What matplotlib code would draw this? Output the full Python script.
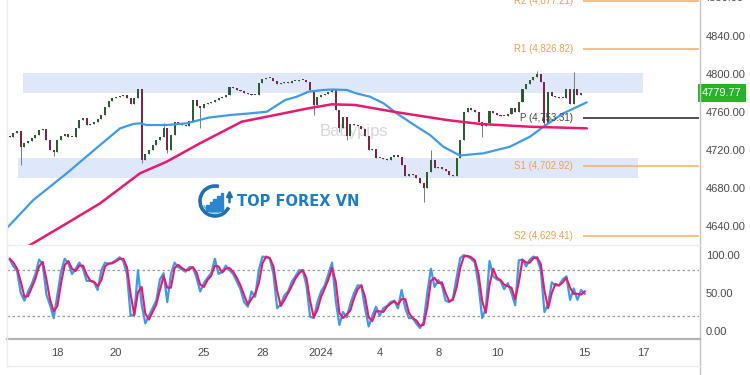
import numpy as np
import matplotlib
matplotlib.use('Agg')
import matplotlib.pyplot as plt
import matplotlib.transforms as mtransforms
from matplotlib.patches import Rectangle, Arc
from matplotlib.lines import Line2D

plt.rcParams['font.family'] = ['Liberation Sans Narrow', 'Liberation Sans', 'DejaVu Sans']

# ---------------- data ----------------
closes = [
    4733.7, 4737.9, 4740.0, 4722.9, 4727.4, 4729.5, 4732.6, 4735.8, 4741.1, 4742.1,
    4730.5, 4720.0, 4717.9, 4730.5, 4734.7, 4736.8, 4733.7, 4733.7, 4743.2, 4751.6,
    4753.7, 4746.3, 4747.4, 4749.5, 4752.6, 4756.8, 4765.3, 4771.6, 4774.7, 4775.8,
    4776.8, 4777.9, 4774.7, 4768.4, 4774.7, 4784.2, 4709.5, 4715.8, 4720.0, 4725.3,
    4730.5, 4733.7, 4743.2, 4720.0, 4735.8, 4749.5, 4748.4, 4746.3, 4745.3, 4750.5,
    4772.6, 4766.3, 4764.2, 4768.4, 4769.5, 4770.5, 4772.6, 4774.7, 4775.8, 4777.9,
    4786.3, 4785.3, 4783.2, 4782.1, 4780.0, 4778.9, 4777.9, 4777.9, 4790.5, 4794.7,
    4795.8, 4795.8, 4792.6, 4789.5, 4790.5, 4791.6, 4790.5, 4792.6, 4792.6, 4793.7,
    4793.7, 4791.6, 4783.2, 4767.4, 4775.8, 4777.9, 4778.9, 4781.1, 4784.2, 4762.1,
    4743.2, 4754.7, 4734.7, 4747.4, 4746.3, 4745.3, 4742.1, 4734.7, 4720.0, 4721.1,
    4711.6, 4711.6, 4710.5, 4709.5, 4712.6, 4714.7, 4712.6, 4704.2, 4692.6, 4694.7,
    4693.7, 4690.5, 4685.3, 4680.0, 4696.8, 4709.5, 4701.1, 4702.1, 4700.0, 4697.9,
    4693.7, 4692.6, 4711.6, 4730.5, 4760.0, 4764.2, 4762.1, 4760.0, 4749.5, 4745.3,
    4748.4, 4761.1, 4759.0, 4756.8, 4755.8, 4755.8, 4757.9, 4764.2, 4760.0, 4770.5,
    4784.2, 4789.5, 4793.7, 4796.8, 4800.0, 4791.6, 4748.4, 4781.1, 4776.8, 4775.8,
    4774.7, 4774.7, 4784.2, 4768.4, 4784.2, 4777.9, 4780.0, 4779.77,
]
first_open = 4735.0
wick_high = {42: 4748.1, 115: 4720.0, 144: 4803.0, 154: 4801.7}
wick_low = {3: 4704.2, 12: 4714.0, 36: 4706.3, 43: 4716.8, 52: 4743.0, 83: 4756.8,
            90: 4739.3, 92: 4730.5, 113: 4665.6, 129: 4734.0, 146: 4744.5}

ma_fast_x = [-1.73, -0.82, 0.32, 1.46, 2.14, 2.59, 2.82, 3.05, 3.73, 4.42, 5.15, 5.89,
             6.58, 7.15, 7.77, 8.17, 8.57, 9.08, 9.37, 9.88, 10.16, 10.67, 11.13, 11.58,
             12.27, 12.72, 13.17, 13.74, 14.54, 15.45, 16.13, 16.59, 17.27, 18.07]
ma_fast_y = [4637.6, 4667.4, 4695.5, 4725.3, 4742.8, 4747.4, 4748.1, 4746.3, 4746.3,
             4748.1, 4754.0, 4756.8, 4758.6, 4760.3, 4772.6, 4776.1, 4781.4, 4783.2,
             4783.7, 4783.2, 4780.0, 4776.1, 4769.2, 4758.6, 4744.5, 4735.8, 4723.5,
             4714.2, 4716.5, 4723.5, 4734.0, 4744.5, 4758.6, 4770.2]
ma_slow_x = [-1.62, -0.93, 0.32, 1.46, 2.82, 3.73, 4.87, 6.29, 7.43, 8.57, 9.37, 10.16,
             11.47, 13.29, 14.43, 16.13, 18.07]
ma_slow_y = [4609.5, 4620.0, 4642.8, 4663.9, 4695.5, 4707.7, 4727.1, 4749.8, 4756.8,
             4763.9, 4768.1, 4767.4, 4760.3, 4751.6, 4747.4, 4744.5, 4742.8]

stoch_k = [
    94, 85, 79, 50, 40, 52, 62, 75, 94, 88, 48, 34, 17, 48, 78, 95, 89, 75, 82, 90,
    82, 66, 66, 64, 54, 80, 90, 88, 90, 93, 97, 92, 75, 20, 22, 80, 35, 10, 20, 30,
    40, 68, 76, 38, 75, 90, 84, 81, 78, 84, 84, 70, 52, 63, 70, 76, 95, 75, 78, 86,
    80, 75, 65, 55, 38, 32, 52, 45, 80, 98, 97, 95, 75, 30, 35, 47, 52, 65, 72, 80,
    80, 60, 19, 17, 38, 52, 60, 75, 90, 40, 8, 25, 18, 36, 50, 60, 60, 30, 6, 20,
    32, 20, 30, 33, 38, 40, 30, 54, 30, 17, 17, 10, 4, 12, 50, 82, 58, 67, 60, 40,
    38, 43, 70, 96, 100, 98, 95, 90, 60, 17, 30, 92, 72, 68, 66, 55, 63, 50, 34, 93,
    94, 85, 94, 98, 95, 80, 25, 35, 64, 60, 60, 68, 72, 41, 56, 41, 54, 49,
]
stoch_d = [
    95, 90, 82, 65, 45, 46, 57, 69, 85, 91, 68, 41, 26, 33, 63, 87, 92, 82, 79, 86,
    86, 74, 66, 65, 59, 67, 85, 89, 89, 92, 95, 95, 84, 48, 21, 51, 58, 23, 15, 25,
    35, 54, 72, 57, 57, 83, 87, 83, 80, 81, 84, 77, 61, 58, 67, 73, 86, 85, 77, 82,
    83, 78, 70, 60, 47, 35, 42, 49, 63, 89, 98, 96, 85, 53, 33, 41, 50, 59, 69, 76,
    80, 70, 40, 18, 28, 45, 56, 68, 83, 65, 24, 17, 22, 27, 43, 55, 60, 45, 18, 13,
    26, 26, 25, 32, 36, 39, 35, 42, 42, 24, 17, 14, 7, 8, 31, 66, 70, 63, 64, 50,
    39, 41, 57, 83, 98, 99, 97, 93, 75, 39, 24, 61, 82, 70, 67, 61, 59, 57, 42, 64,
    94, 90, 90, 96, 97, 88, 53, 30, 50, 62, 60, 64, 70, 57, 49, 49, 48, 52,
]

pivot_names = ['R2', 'R1', 'P', 'S1', 'S2']
pivot_values = [4877.21, 4826.82, 4753.31, 4702.92, 4629.41]
zone_low = [4780.3, 4690.8]
zone_high = [4801.0, 4711.9]
zone_start = [-1.18, -1.34]
zone_end = [19.99, 19.81]
day_ticks = [0, 2, 5, 7, 9, 11, 13, 15, 18, 20]
day_labels = ['18', '20', '25', '28', '2024', '4', '8', '10', '15', '17']
price_ticks = [4640, 4680, 4720, 4760, 4800, 4840, 4880]
stoch_ticks = [0, 50, 100]
stoch_levels = [80, 20]
last_price = 4779.77

# ---------------- figure ----------------
W, H = 750, 375
fig = plt.figure(figsize=(7.5, 3.75), dpi=100)
fig.patch.set_facecolor('white')

def fx(px):
    return px / W

def fy(py):
    return 1 - py / H

ax = fig.add_axes([fx(7), fy(245), fx(699) - fx(7), fy(0) - fy(245)])
ax2 = fig.add_axes([fx(7), fy(338), fx(699) - fx(7), fy(245) - fy(338)], sharex=ax)

XMIN, XMAX = -1.72, 21.9
ax.set_xlim(XMIN, XMAX)
ax.set_ylim(4620.0, 4877.9)
ax2.set_ylim(-9.2, 113.2)

for a in (ax, ax2):
    for s in a.spines.values():
        s.set_visible(False)
    a.set_facecolor('none')

# zones
for lo, hi, x0, x1 in zip(zone_low, zone_high, zone_start, zone_end):
    ax.add_patch(Rectangle((x0, lo), x1 - x0, hi - lo, facecolor='#dfe7fb',
                           edgecolor='none', zorder=0))

# watermark
ax.text(10.13, 4740, 'Babypips', fontsize=12, color='#d8d8d8', ha='center',
        va='center', zorder=1)

# candles
n = len(closes)
pos = np.arange(n) * 0.125 - 1.625
opens = [first_open] + closes[:-1]
highs = [max(o, c) for o, c in zip(opens, closes)]
lows = [min(o, c) for o, c in zip(opens, closes)]
for i, v in wick_high.items():
    highs[i] = v
for i, v in wick_low.items():
    lows[i] = v
up_col, dn_col = '#2a5e2d', '#7e2446'
cols = [up_col if c >= o else dn_col for o, c in zip(opens, closes)]
ax.vlines(pos, lows, highs, color='#7a7a7a', lw=0.7, zorder=3)
bodies = [max(abs(c - o), 0.7) for o, c in zip(opens, closes)]
bottoms = [min(o, c) for o, c in zip(opens, closes)]
ax.bar(pos, bodies, bottom=bottoms, width=0.07, color=cols, edgecolor='none', zorder=4)

# moving averages
ax.plot(ma_fast_x, ma_fast_y, color='#3d9be9', lw=1.6, zorder=5, solid_capstyle='round')
ax.plot(ma_slow_x, ma_slow_y, color='#e8196f', lw=1.8, zorder=5, solid_capstyle='round')

# pivots
piv_start = 17.94
for name, val in zip(pivot_names, pivot_values):
    c_line = '#333333' if name == 'P' else '#f7b46e'
    c_txt = '#444444' if name == 'P' else '#f0a04a'
    ax.plot([piv_start, XMAX], [val, val], color=c_line, lw=1.2, zorder=2,
            solid_capstyle='butt')
    ax.text(17.6, val, f'{name} ({val:,.2f})', color=c_txt, fontsize=7,
            ha='right', va='center', zorder=6, clip_on=False)

# price axis
ax.yaxis.tick_right()
ax.set_yticks(price_ticks[:-1])
ax.set_yticklabels([f'{v:.2f}' for v in price_ticks[:-1]])
ax.tick_params(axis='y', length=0, pad=5, labelsize=8, labelcolor='#4a4a4a')
ax.tick_params(axis='x', length=0, labelbottom=False)
bt = mtransforms.blended_transform_factory(ax.transAxes, ax.transData)
ax.text(1.0 + 5 / 692, price_ticks[-1], f'{price_ticks[-1]:.2f}', transform=bt,
        fontsize=8, color='#4a4a4a', ha='left', va='center', clip_on=False)
ax.text(1.0 + 3 / 692, last_price, f'{last_price:.2f}', transform=bt, fontsize=8,
        color='white', ha='left', va='center', zorder=10, clip_on=False,
        bbox=dict(boxstyle='square,pad=0.35', fc='#27b227', ec='none'))

# stochastic
ax2.plot(pos, stoch_k, color='#3d9be9', lw=1.6, zorder=3)
ax2.plot(pos, stoch_d, color='#e8196f', lw=1.5, zorder=4)
for lv in stoch_levels:
    ax2.axhline(lv, color='#9a9a9a', lw=0.9, ls=(0, (2, 2)), zorder=1)
ax2.yaxis.tick_right()
ax2.set_yticks(stoch_ticks)
ax2.set_yticklabels([f'{v:.2f}' for v in stoch_ticks])
ax2.tick_params(axis='y', length=0, pad=5, labelsize=8, labelcolor='#4a4a4a')
ax2.set_xticks(day_ticks)
ax2.set_xticklabels(day_labels)
ax2.tick_params(axis='x', length=0, pad=7, labelsize=8, labelcolor='#4a4a4a')

# frame lines
def fline(x0, y0, x1, y1, color, lw):
    fig.add_artist(Line2D([fx(x0), fx(x1)], [fy(y0), fy(y1)], color=color, lw=lw,
                          transform=fig.transFigure))

fline(699.5, 0, 699.5, 375, '#c4c4c4', 1.0)
fline(7, 245, 699.5, 245, '#ececec', 1.0)
fline(7, 338.5, 699.5, 338.5, '#b4b4b4', 1.6)
fline(7, 366, 699.5, 366, '#ececec', 1.0)
fline(7, 0, 7, 366, '#ececec', 1.0)

# logo
lax = fig.add_axes([fx(196), fy(219), fx(40), 36 / H])
lax.set_xlim(0, 40)
lax.set_ylim(0, 36)
lax.axis('off')
lax.add_patch(Arc((19, 18), 30, 30, theta1=75, theta2=335, color='#1f6fb4', lw=2.6))
lax.add_patch(Arc((19, 18), 24, 24, theta1=200, theta2=320, color='#5aaee8', lw=1.0))
for bx, bh in zip([10.5, 14.0, 17.5, 21.0, 24.5], [6, 9, 12, 15, 18]):
    lax.add_patch(Rectangle((bx, 8), 2.6, bh, color='#2a86cf'))
lax.annotate('', xy=(33.5, 32), xytext=(33.5, 14),
             arrowprops=dict(arrowstyle='-|>', color='#1f6fb4', lw=1.8,
                             mutation_scale=8))
fig.text(fx(237), fy(201), 'TOP FOREX VN', fontsize=10.5, fontweight='bold',
         color='#1e7cc0', ha='left', va='center', family='DejaVu Sans')

fig.savefig('out.png', dpi=100, facecolor='white')
